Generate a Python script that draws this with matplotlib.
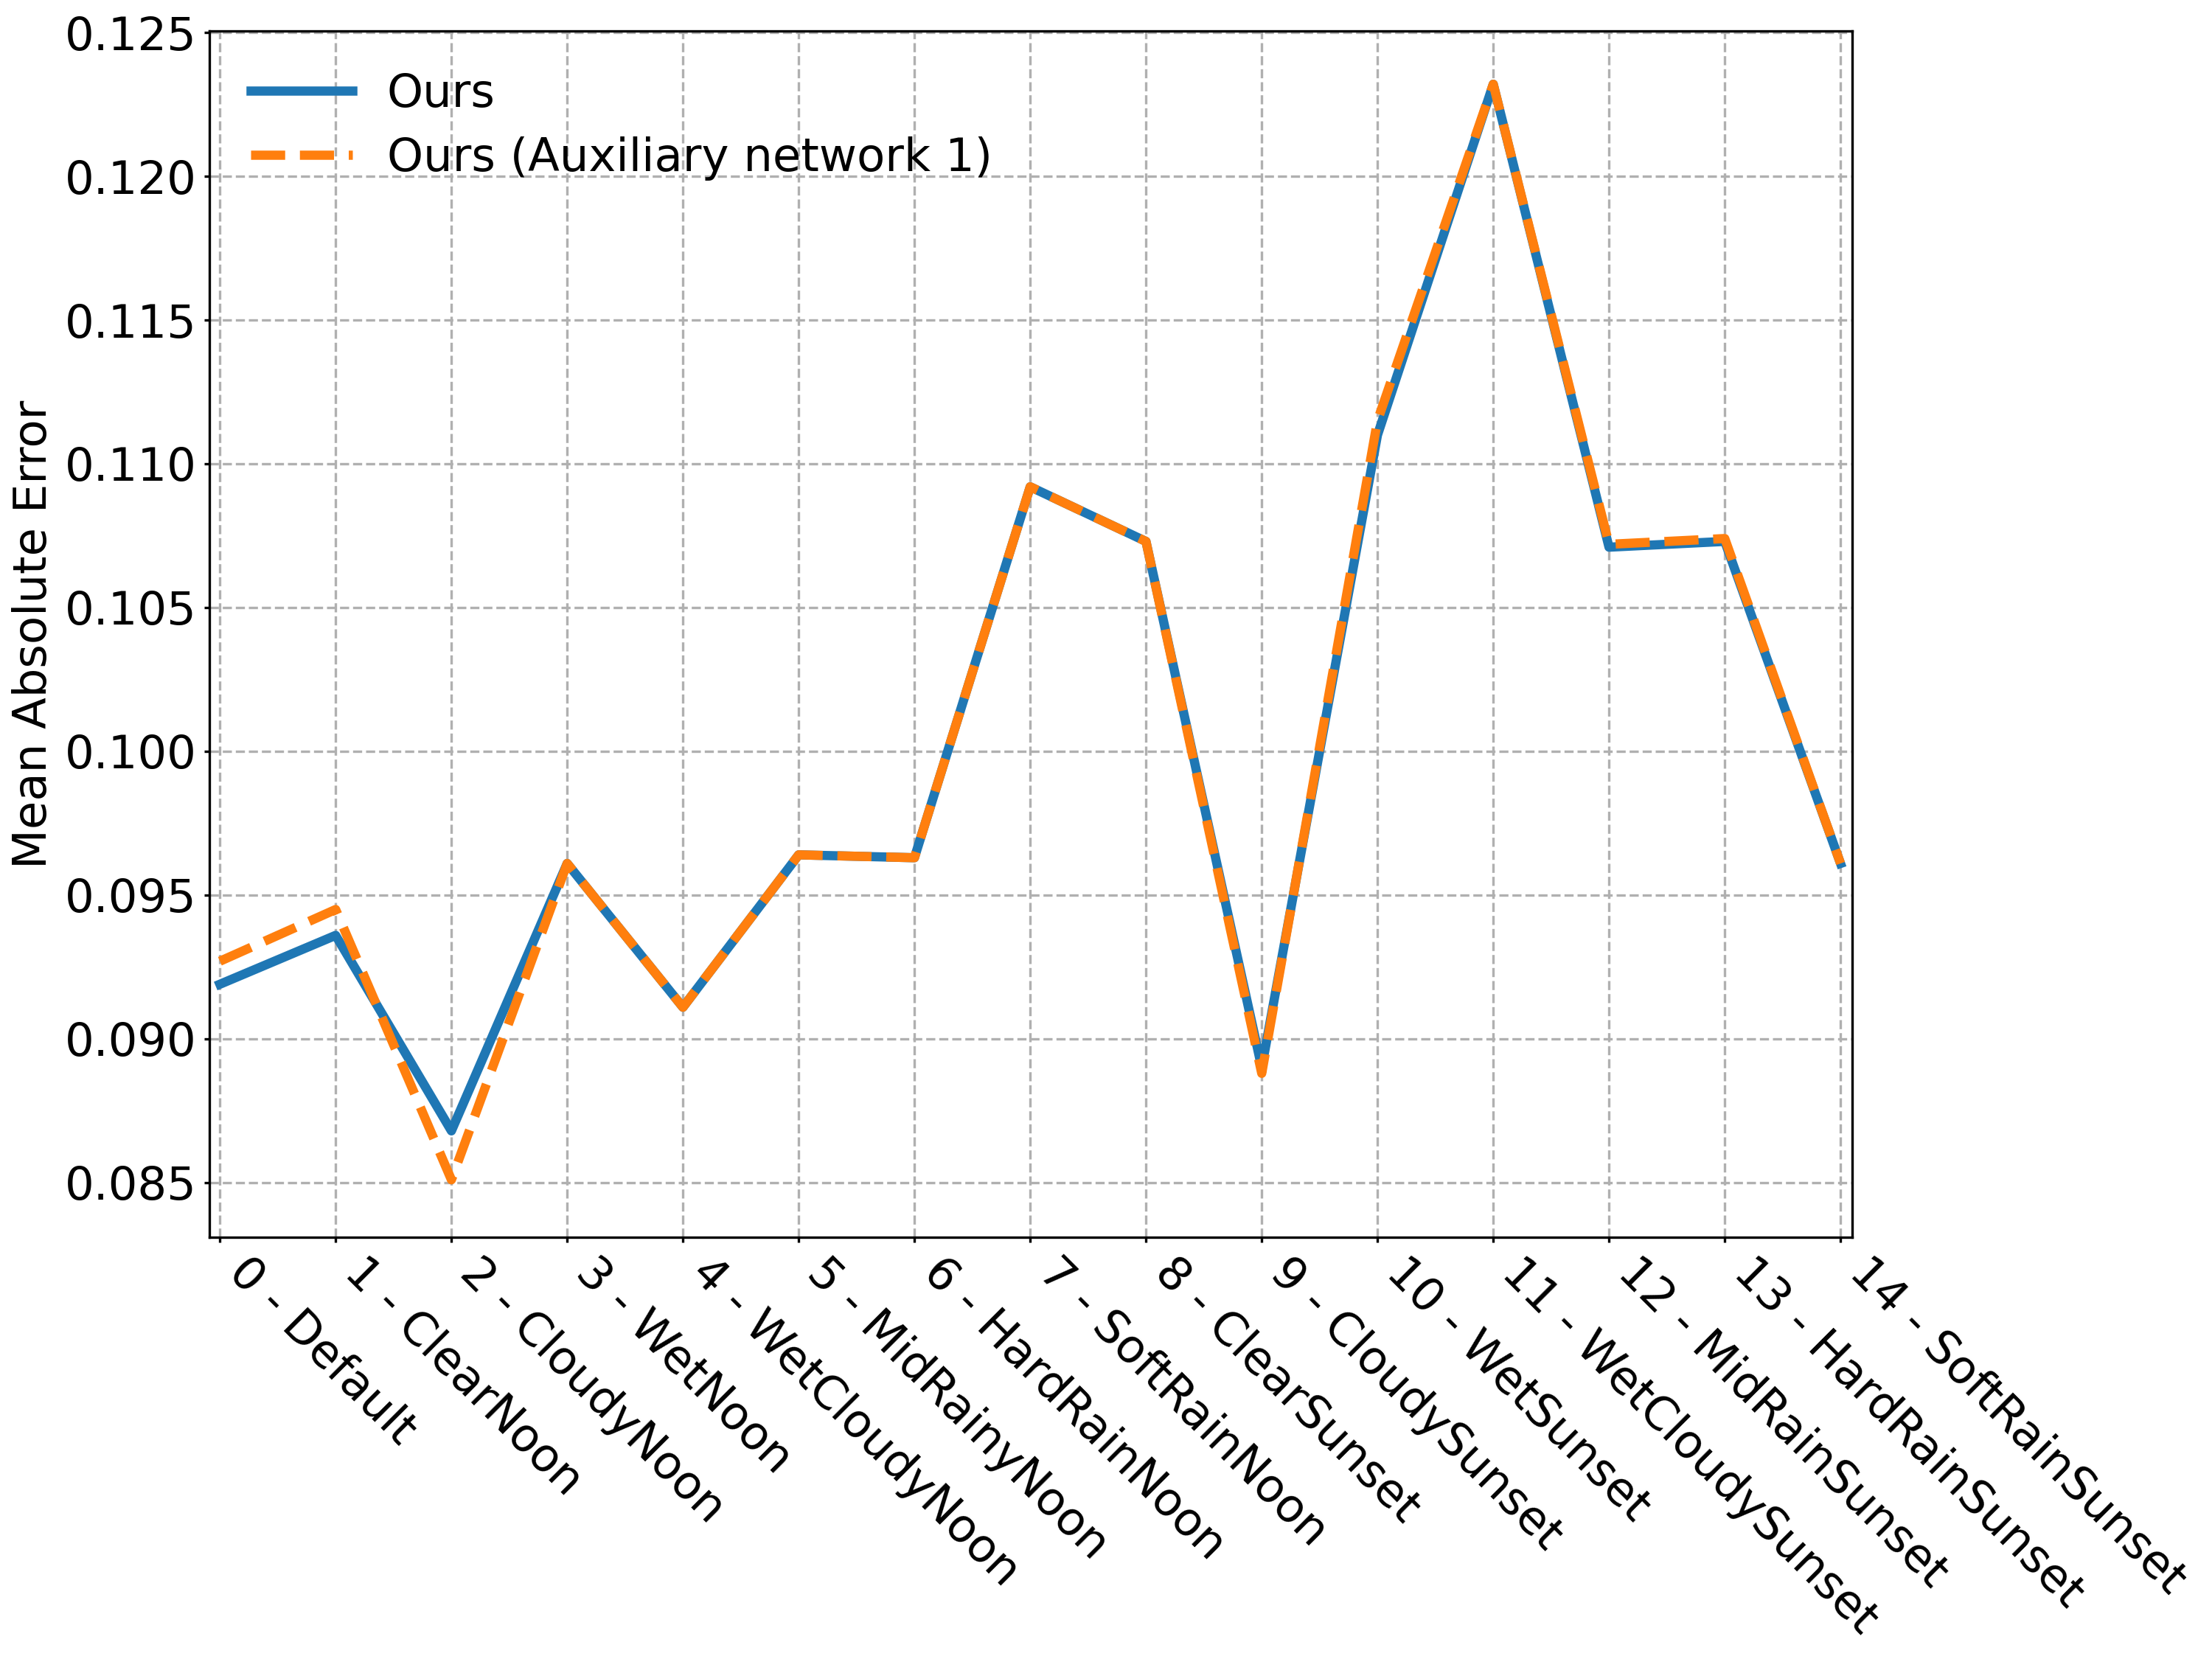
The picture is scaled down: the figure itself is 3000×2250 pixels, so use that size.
import matplotlib
matplotlib.use("Agg")
import matplotlib.pyplot as plt

categories = ["0 - Default", "1 - ClearNoon", "2 - CloudyNoon", "3 - WetNoon",
              "4 - WetCloudyNoon", "5 - MidRainyNoon", "6 - HardRainNoon",
              "7 - SoftRainNoon", "8 - ClearSunset", "9 - CloudySunset",
              "10 - WetSunset", "11 - WetCloudySunset", "12 - MidRainSunset",
              "13 - HardRainSunset", "14 - SoftRainSunset"]
ours = [0.0919, 0.0936, 0.0868, 0.0961, 0.0911, 0.0964, 0.0963, 0.1092,
        0.1073, 0.0890, 0.1110, 0.1232, 0.1071, 0.1073, 0.0961]
ours_aux1 = [0.0927, 0.0945, 0.0851, 0.0961, 0.0911, 0.0964, 0.0963, 0.1092,
             0.1073, 0.0888, 0.1115, 0.1232, 0.1072, 0.1074, 0.0961]
yticks = [0.085, 0.090, 0.095, 0.100, 0.105, 0.110, 0.115, 0.120, 0.125]

fs = 15
fig = plt.figure(figsize=(10, 7.5), dpi=300)
ax = fig.add_axes([0.0947, 0.2542, 0.7426, 0.7271])
x = list(range(len(categories)))
ax.plot(x, ours, color="#1f77b4", lw=3, label="Ours")
ax.plot(x, ours_aux1, color="#ff7f0e", lw=3, ls="--", label="Ours (Auxiliary network 1)")
ax.set_xlim(-0.09, 14.1)
ax.set_ylim(0.0831, 0.12505)
ax.set_xticks(x)
ax.set_xticklabels(categories, rotation=-45, ha="left", fontsize=fs)
ax.set_yticks(yticks)
ax.set_yticklabels([f"{v:.3f}" for v in yticks])
ax.tick_params(axis="both", length=1.7, pad=2.4)
ax.tick_params(axis="y", labelsize=fs)
ax.set_ylabel("Mean Absolute Error", fontsize=fs, labelpad=3)
ax.grid(True, linestyle="--", color="#b0b0b0", lw=0.8)
ax.legend(loc="upper left", frameon=False, fontsize=15, handlelength=2.2,
          handletextpad=0.75, labelspacing=0.42)
fig.savefig("out.png", dpi=300)
